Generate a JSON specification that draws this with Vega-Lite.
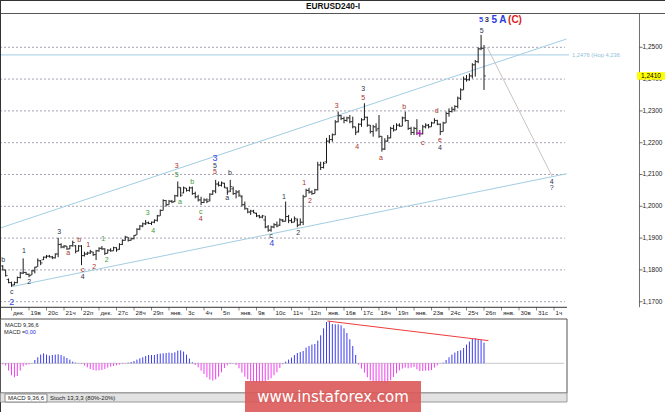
{
  "$schema": "https://vega.github.io/schema/vega-lite/v6.json",
  "width": 665,
  "height": 412,
  "autosize": {"type": "none"},
  "padding": 0,
  "background": "white",
  "config": {"view": {"stroke": null}, "text": {"font": "Liberation Sans"}},
  "datasets": {
    "bars": [
      {"t":-3,"o":1.1812,"h":1.1815,"l":1.1798,"c":1.1800},
      {"t":-2,"o":1.1800,"h":1.1800,"l":1.1779,"c":1.1782},
      {"t":-1,"o":1.1770,"h":1.1773,"l":1.1758,"c":1.1760},
      {"t":0,"o":1.1760,"h":1.1763,"l":1.1747,"c":1.1752},
      {"t":1,"o":1.1753,"h":1.1763,"l":1.1752,"c":1.1760},
      {"t":2,"o":1.1760,"h":1.1779,"l":1.1758,"c":1.1776},
      {"t":3,"o":1.1776,"h":1.1794,"l":1.1773,"c":1.1790},
      {"t":4,"o":1.1790,"h":1.1836,"l":1.1787,"c":1.1792},
      {"t":5,"o":1.1792,"h":1.1794,"l":1.1784,"c":1.1786},
      {"t":6,"o":1.1786,"h":1.1789,"l":1.1777,"c":1.1782},
      {"t":7,"o":1.1784,"h":1.1800,"l":1.1784,"c":1.1797},
      {"t":8,"o":1.1797,"h":1.1810,"l":1.1789,"c":1.1808},
      {"t":9,"o":1.1810,"h":1.1836,"l":1.1810,"c":1.1830},
      {"t":10,"o":1.1828,"h":1.1831,"l":1.1815,"c":1.1822},
      {"t":11,"o":1.1832,"h":1.1842,"l":1.1831,"c":1.1840},
      {"t":12,"o":1.1840,"h":1.1847,"l":1.1836,"c":1.1843},
      {"t":13,"o":1.1843,"h":1.1847,"l":1.1839,"c":1.1841},
      {"t":14,"o":1.1841,"h":1.1844,"l":1.1834,"c":1.1838},
      {"t":15,"o":1.1838,"h":1.1852,"l":1.1836,"c":1.1850},
      {"t":16,"o":1.1850,"h":1.1901,"l":1.1840,"c":1.1880},
      {"t":17,"o":1.1880,"h":1.1884,"l":1.1868,"c":1.1872},
      {"t":18,"o":1.1872,"h":1.1878,"l":1.1868,"c":1.1875},
      {"t":19,"o":1.1875,"h":1.1875,"l":1.1863,"c":1.1866},
      {"t":20,"o":1.1866,"h":1.1878,"l":1.1865,"c":1.1876},
      {"t":21,"o":1.1876,"h":1.1892,"l":1.1873,"c":1.1886},
      {"t":22,"o":1.1876,"h":1.1878,"l":1.1852,"c":1.1858},
      {"t":23,"o":1.1860,"h":1.1878,"l":1.1858,"c":1.1875},
      {"t":24,"o":1.1875,"h":1.1878,"l":1.1815,"c":1.1845},
      {"t":25,"o":1.1845,"h":1.1857,"l":1.1842,"c":1.1850},
      {"t":26,"o":1.1850,"h":1.1857,"l":1.1847,"c":1.1853},
      {"t":27,"o":1.1853,"h":1.1863,"l":1.1850,"c":1.1858},
      {"t":28,"o":1.1856,"h":1.1857,"l":1.1844,"c":1.1848},
      {"t":29,"o":1.1848,"h":1.1863,"l":1.1831,"c":1.1860},
      {"t":30,"o":1.1860,"h":1.1871,"l":1.1857,"c":1.1868},
      {"t":31,"o":1.1868,"h":1.1875,"l":1.1863,"c":1.1866},
      {"t":32,"o":1.1866,"h":1.1868,"l":1.1847,"c":1.1852},
      {"t":33,"o":1.1852,"h":1.1865,"l":1.1852,"c":1.1862},
      {"t":34,"o":1.1862,"h":1.1868,"l":1.1857,"c":1.1860},
      {"t":35,"o":1.1860,"h":1.1873,"l":1.1860,"c":1.1870},
      {"t":36,"o":1.1870,"h":1.1871,"l":1.1857,"c":1.1863},
      {"t":37,"o":1.1865,"h":1.1884,"l":1.1863,"c":1.1880},
      {"t":38,"o":1.1880,"h":1.1896,"l":1.1878,"c":1.1893},
      {"t":39,"o":1.1893,"h":1.1907,"l":1.1892,"c":1.1903},
      {"t":40,"o":1.1903,"h":1.1903,"l":1.1889,"c":1.1893},
      {"t":41,"o":1.1893,"h":1.1902,"l":1.1892,"c":1.1898},
      {"t":42,"o":1.1898,"h":1.1910,"l":1.1896,"c":1.1908},
      {"t":43,"o":1.1910,"h":1.1931,"l":1.1910,"c":1.1928},
      {"t":44,"o":1.1928,"h":1.1941,"l":1.1925,"c":1.1938},
      {"t":45,"o":1.1938,"h":1.1949,"l":1.1934,"c":1.1945},
      {"t":46,"o":1.1945,"h":1.1957,"l":1.1941,"c":1.1948},
      {"t":47,"o":1.1948,"h":1.1952,"l":1.1944,"c":1.1946},
      {"t":48,"o":1.1946,"h":1.1952,"l":1.1941,"c":1.1950},
      {"t":49,"o":1.1950,"h":1.1959,"l":1.1947,"c":1.1956},
      {"t":50,"o":1.1956,"h":1.1973,"l":1.1952,"c":1.1970},
      {"t":51,"o":1.1970,"h":1.1990,"l":1.1970,"c":1.1987},
      {"t":52,"o":1.1987,"h":1.2022,"l":1.1987,"c":1.2018},
      {"t":53,"o":1.2018,"h":1.2020,"l":1.1999,"c":1.2005},
      {"t":54,"o":1.2005,"h":1.2020,"l":1.2005,"c":1.2016},
      {"t":55,"o":1.2016,"h":1.2020,"l":1.2010,"c":1.2013},
      {"t":56,"o":1.2015,"h":1.2036,"l":1.2013,"c":1.2033},
      {"t":57,"o":1.2033,"h":1.2078,"l":1.2030,"c":1.2060},
      {"t":58,"o":1.2058,"h":1.2060,"l":1.2030,"c":1.2035},
      {"t":59,"o":1.2042,"h":1.2062,"l":1.2041,"c":1.2058},
      {"t":60,"o":1.2057,"h":1.2057,"l":1.2046,"c":1.2050},
      {"t":61,"o":1.2050,"h":1.2062,"l":1.2046,"c":1.2058},
      {"t":62,"o":1.2058,"h":1.2062,"l":1.2036,"c":1.2040},
      {"t":63,"o":1.2040,"h":1.2046,"l":1.2025,"c":1.2030},
      {"t":64,"o":1.2030,"h":1.2036,"l":1.2015,"c":1.2020},
      {"t":65,"o":1.2020,"h":1.2030,"l":1.2004,"c":1.2012},
      {"t":66,"o":1.2012,"h":1.2025,"l":1.2010,"c":1.2020},
      {"t":67,"o":1.2020,"h":1.2025,"l":1.2010,"c":1.2015},
      {"t":68,"o":1.2020,"h":1.2041,"l":1.2015,"c":1.2038},
      {"t":69,"o":1.2038,"h":1.2051,"l":1.2036,"c":1.2048},
      {"t":70,"o":1.2048,"h":1.2083,"l":1.2041,"c":1.2070},
      {"t":71,"o":1.2070,"h":1.2078,"l":1.2062,"c":1.2066},
      {"t":72,"o":1.2066,"h":1.2078,"l":1.2062,"c":1.2074},
      {"t":73,"o":1.2072,"h":1.2074,"l":1.2057,"c":1.2060},
      {"t":74,"o":1.2057,"h":1.2060,"l":1.2036,"c":1.2045},
      {"t":75,"o":1.2048,"h":1.2083,"l":1.2045,"c":1.2062},
      {"t":76,"o":1.2055,"h":1.2062,"l":1.2036,"c":1.2040},
      {"t":77,"o":1.2040,"h":1.2051,"l":1.2025,"c":1.2045},
      {"t":78,"o":1.2045,"h":1.2051,"l":1.2030,"c":1.2035},
      {"t":79,"o":1.2030,"h":1.2035,"l":1.1999,"c":1.2005},
      {"t":80,"o":1.2005,"h":1.2015,"l":1.1989,"c":1.1994},
      {"t":81,"o":1.1992,"h":1.1994,"l":1.1978,"c":1.1982},
      {"t":82,"o":1.1982,"h":1.1989,"l":1.1973,"c":1.1985},
      {"t":83,"o":1.1985,"h":1.1989,"l":1.1978,"c":1.1980},
      {"t":84,"o":1.1977,"h":1.1980,"l":1.1966,"c":1.1970},
      {"t":85,"o":1.1970,"h":1.1973,"l":1.1962,"c":1.1966},
      {"t":86,"o":1.1966,"h":1.1973,"l":1.1962,"c":1.1970},
      {"t":87,"o":1.1957,"h":1.1970,"l":1.1931,"c":1.1935},
      {"t":88,"o":1.1935,"h":1.1941,"l":1.1920,"c":1.1925},
      {"t":89,"o":1.1925,"h":1.1939,"l":1.1920,"c":1.1935},
      {"t":90,"o":1.1935,"h":1.1947,"l":1.1931,"c":1.1942},
      {"t":91,"o":1.1942,"h":1.1952,"l":1.1934,"c":1.1938},
      {"t":92,"o":1.1941,"h":1.1962,"l":1.1938,"c":1.1958},
      {"t":93,"o":1.1956,"h":1.1960,"l":1.1950,"c":1.1953},
      {"t":94,"o":1.1953,"h":1.2015,"l":1.1952,"c":1.1968},
      {"t":95,"o":1.1968,"h":1.1973,"l":1.1947,"c":1.1955},
      {"t":96,"o":1.1955,"h":1.1962,"l":1.1947,"c":1.1950},
      {"t":97,"o":1.1950,"h":1.1968,"l":1.1950,"c":1.1962},
      {"t":98,"o":1.1957,"h":1.1962,"l":1.1934,"c":1.1940},
      {"t":99,"o":1.1942,"h":1.1962,"l":1.1940,"c":1.1950},
      {"t":100,"o":1.1950,"h":1.2036,"l":1.1941,"c":1.2030},
      {"t":101,"o":1.2030,"h":1.2055,"l":1.2030,"c":1.2050},
      {"t":102,"o":1.2050,"h":1.2058,"l":1.2040,"c":1.2045},
      {"t":103,"o":1.2045,"h":1.2050,"l":1.2036,"c":1.2040},
      {"t":104,"o":1.2040,"h":1.2055,"l":1.2040,"c":1.2052},
      {"t":105,"o":1.2052,"h":1.2140,"l":1.2050,"c":1.2130},
      {"t":106,"o":1.2130,"h":1.2140,"l":1.2114,"c":1.2122},
      {"t":107,"o":1.2122,"h":1.2140,"l":1.2119,"c":1.2135},
      {"t":108,"o":1.2140,"h":1.2215,"l":1.2135,"c":1.2205},
      {"t":109,"o":1.2205,"h":1.2224,"l":1.2198,"c":1.2210},
      {"t":110,"o":1.2210,"h":1.2229,"l":1.2203,"c":1.2225},
      {"t":111,"o":1.2225,"h":1.2271,"l":1.2224,"c":1.2265},
      {"t":112,"o":1.2266,"h":1.2298,"l":1.2264,"c":1.2285},
      {"t":113,"o":1.2285,"h":1.2287,"l":1.2271,"c":1.2276},
      {"t":114,"o":1.2276,"h":1.2282,"l":1.2261,"c":1.2270},
      {"t":115,"o":1.2270,"h":1.2282,"l":1.2266,"c":1.2278},
      {"t":116,"o":1.2278,"h":1.2287,"l":1.2261,"c":1.2266},
      {"t":117,"o":1.2266,"h":1.2282,"l":1.2245,"c":1.2250},
      {"t":118,"o":1.2250,"h":1.2250,"l":1.2224,"c":1.2232},
      {"t":119,"o":1.2236,"h":1.2261,"l":1.2232,"c":1.2258},
      {"t":120,"o":1.2258,"h":1.2277,"l":1.2250,"c":1.2272},
      {"t":121,"o":1.2272,"h":1.2324,"l":1.2271,"c":1.2280},
      {"t":122,"o":1.2280,"h":1.2282,"l":1.2250,"c":1.2255},
      {"t":123,"o":1.2255,"h":1.2256,"l":1.2229,"c":1.2235},
      {"t":124,"o":1.2235,"h":1.2256,"l":1.2219,"c":1.2250},
      {"t":125,"o":1.2250,"h":1.2261,"l":1.2235,"c":1.2240},
      {"t":126,"o":1.2245,"h":1.2287,"l":1.2215,"c":1.2220},
      {"t":127,"o":1.2220,"h":1.2220,"l":1.2172,"c":1.2180},
      {"t":128,"o":1.2180,"h":1.2214,"l":1.2177,"c":1.2205},
      {"t":129,"o":1.2205,"h":1.2224,"l":1.2203,"c":1.2215},
      {"t":130,"o":1.2215,"h":1.2250,"l":1.2214,"c":1.2245},
      {"t":131,"o":1.2245,"h":1.2256,"l":1.2235,"c":1.2240},
      {"t":132,"o":1.2240,"h":1.2261,"l":1.2240,"c":1.2255},
      {"t":133,"o":1.2255,"h":1.2261,"l":1.2250,"c":1.2252},
      {"t":134,"o":1.2252,"h":1.2282,"l":1.2252,"c":1.2278},
      {"t":135,"o":1.2278,"h":1.2298,"l":1.2266,"c":1.2270},
      {"t":136,"o":1.2270,"h":1.2271,"l":1.2240,"c":1.2245},
      {"t":137,"o":1.2245,"h":1.2250,"l":1.2224,"c":1.2232},
      {"t":138,"o":1.2232,"h":1.2250,"l":1.2224,"c":1.2245},
      {"t":139,"o":1.2245,"h":1.2274,"l":1.2224,"c":1.2230},
      {"t":140,"o":1.2230,"h":1.2240,"l":1.2219,"c":1.2228},
      {"t":141,"o":1.2228,"h":1.2256,"l":1.2226,"c":1.2250},
      {"t":142,"o":1.2250,"h":1.2261,"l":1.2245,"c":1.2255},
      {"t":143,"o":1.2255,"h":1.2259,"l":1.2245,"c":1.2250},
      {"t":144,"o":1.2250,"h":1.2266,"l":1.2250,"c":1.2262},
      {"t":145,"o":1.2262,"h":1.2277,"l":1.2261,"c":1.2270},
      {"t":146,"o":1.2270,"h":1.2272,"l":1.2255,"c":1.2258},
      {"t":147,"o":1.2258,"h":1.2261,"l":1.2224,"c":1.2235},
      {"t":148,"o":1.2235,"h":1.2266,"l":1.2235,"c":1.2262},
      {"t":149,"o":1.2262,"h":1.2298,"l":1.2262,"c":1.2292},
      {"t":150,"o":1.2292,"h":1.2308,"l":1.2282,"c":1.2298},
      {"t":151,"o":1.2298,"h":1.2313,"l":1.2295,"c":1.2305},
      {"t":152,"o":1.2305,"h":1.2318,"l":1.2298,"c":1.2314},
      {"t":153,"o":1.2314,"h":1.2345,"l":1.2308,"c":1.2340},
      {"t":154,"o":1.2340,"h":1.2371,"l":1.2334,"c":1.2366},
      {"t":155,"o":1.2366,"h":1.2408,"l":1.2366,"c":1.2400},
      {"t":156,"o":1.2400,"h":1.2413,"l":1.2392,"c":1.2398},
      {"t":157,"o":1.2398,"h":1.2418,"l":1.2395,"c":1.2410},
      {"t":158,"o":1.2410,"h":1.2450,"l":1.2402,"c":1.2445},
      {"t":159,"o":1.2445,"h":1.2460,"l":1.2408,"c":1.2455},
      {"t":160,"o":1.2455,"h":1.2500,"l":1.2450,"c":1.2495},
      {"t":161,"o":1.2495,"h":1.2539,"l":1.2491,"c":1.2497},
      {"t":162,"o":1.2497,"h":1.2507,"l":1.2366,"c":1.2410}
    ],
    "macd": [
      {"t":-3,"v":-0.0001},{"t":-2,"v":-0.00023},{"t":-1,"v":-0.00073},{"t":0,"v":-0.0012},
      {"t":1,"v":-0.0014},{"t":2,"v":-0.00127},{"t":3,"v":-0.00073},{"t":4,"v":-0.0003},
      {"t":5,"v":-0.00017},{"t":6,"v":-0.0001},{"t":7,"v":0.00003},{"t":8,"v":0.00033},
      {"t":9,"v":0.0006},{"t":10,"v":0.00087},{"t":11,"v":0.001},{"t":12,"v":0.00087},
      {"t":13,"v":0.00077},{"t":14,"v":0.00083},{"t":15,"v":0.00087},{"t":16,"v":0.0009},
      {"t":17,"v":0.00083},{"t":18,"v":0.0007},{"t":19,"v":0.00053},{"t":20,"v":0.00037},
      {"t":21,"v":0.00017},{"t":22,"v":0.00007},{"t":23,"v":0.00002},{"t":24,"v":-0.00007},
      {"t":25,"v":-0.00023},{"t":26,"v":-0.0004},{"t":27,"v":-0.00057},{"t":28,"v":-0.00067},
      {"t":29,"v":-0.00073},{"t":30,"v":-0.0007},{"t":31,"v":-0.00067},{"t":32,"v":-0.00057},
      {"t":33,"v":-0.00043},{"t":34,"v":-0.00033},{"t":35,"v":-0.00027},{"t":36,"v":-0.0002},
      {"t":37,"v":-0.00013},{"t":38,"v":-0.00007},{"t":39,"v":-0.00003},{"t":40,"v":0.00007},
      {"t":41,"v":0.00013},{"t":42,"v":0.00023},{"t":43,"v":0.00037},{"t":44,"v":0.0005},
      {"t":45,"v":0.0006},{"t":46,"v":0.00073},{"t":47,"v":0.00083},{"t":48,"v":0.00083},
      {"t":49,"v":0.00083},{"t":50,"v":0.00093},{"t":51,"v":0.00097},{"t":52,"v":0.001},
      {"t":53,"v":0.00103},{"t":54,"v":0.00107},{"t":55,"v":0.00103},{"t":56,"v":0.0011},
      {"t":57,"v":0.00127},{"t":58,"v":0.0013},{"t":59,"v":0.00117},{"t":60,"v":0.00087},
      {"t":61,"v":0.00047},{"t":62,"v":0.0001},{"t":63,"v":-0.00017},{"t":64,"v":-0.0004},
      {"t":65,"v":-0.00073},{"t":66,"v":-0.00107},{"t":67,"v":-0.0014},{"t":68,"v":-0.00163},
      {"t":69,"v":-0.00173},{"t":70,"v":-0.0016},{"t":71,"v":-0.00133},{"t":72,"v":-0.0009},
      {"t":73,"v":-0.00047},{"t":74,"v":-0.0002},{"t":75,"v":-0.00007},{"t":76,"v":-0.00003},
      {"t":77,"v":-0.00017},{"t":78,"v":-0.0005},{"t":79,"v":-0.00093},{"t":80,"v":-0.00133},
      {"t":81,"v":-0.0016},{"t":82,"v":-0.00177},{"t":83,"v":-0.0019},{"t":84,"v":-0.00193},
      {"t":85,"v":-0.00193},{"t":86,"v":-0.00187},{"t":87,"v":-0.0018},{"t":88,"v":-0.00167},
      {"t":89,"v":-0.0015},{"t":90,"v":-0.0012},{"t":91,"v":-0.0009},{"t":92,"v":-0.00047},
      {"t":93,"v":-0.0001},{"t":94,"v":0.00017},{"t":95,"v":0.00037},{"t":96,"v":0.00057},
      {"t":97,"v":0.00083},{"t":98,"v":0.00103},{"t":99,"v":0.00113},{"t":100,"v":0.00123},
      {"t":101,"v":0.00157},{"t":102,"v":0.00173},{"t":103,"v":0.00187},{"t":104,"v":0.00193},
      {"t":105,"v":0.00227},{"t":106,"v":0.0028},{"t":107,"v":0.0035},{"t":108,"v":0.00413},
      {"t":109,"v":0.0042},{"t":110,"v":0.00393},{"t":111,"v":0.0039},{"t":112,"v":0.0039},
      {"t":113,"v":0.0038},{"t":114,"v":0.0035},{"t":115,"v":0.00303},{"t":116,"v":0.0024},
      {"t":117,"v":0.00173},{"t":118,"v":0.00083},{"t":119,"v":-0.00013},{"t":120,"v":-0.00053},
      {"t":121,"v":-0.00093},{"t":122,"v":-0.0014},{"t":123,"v":-0.0017},{"t":124,"v":-0.00187},
      {"t":125,"v":-0.00193},{"t":126,"v":-0.00193},{"t":127,"v":-0.00193},{"t":128,"v":-0.00193},
      {"t":129,"v":-0.0019},{"t":130,"v":-0.0017},{"t":131,"v":-0.00137},{"t":132,"v":-0.001},
      {"t":133,"v":-0.0007},{"t":134,"v":-0.00053},{"t":135,"v":-0.00043},{"t":136,"v":-0.0005},
      {"t":137,"v":-0.00043},{"t":138,"v":-0.00037},{"t":139,"v":-0.0006},{"t":140,"v":-0.00077},
      {"t":141,"v":-0.00077},{"t":142,"v":-0.00073},{"t":143,"v":-0.00073},{"t":144,"v":-0.00067},
      {"t":145,"v":-0.00043},{"t":146,"v":-0.0002},{"t":147,"v":-0.00003},{"t":148,"v":0.00007},
      {"t":149,"v":0.00033},{"t":150,"v":0.0006},{"t":151,"v":0.00087},{"t":152,"v":0.00107},
      {"t":153,"v":0.00123},{"t":154,"v":0.0013},{"t":155,"v":0.00153},{"t":156,"v":0.00187},
      {"t":157,"v":0.00217},{"t":158,"v":0.00243},{"t":159,"v":0.0025},{"t":160,"v":0.00243},
      {"t":161,"v":0.00233},{"t":162,"v":0.00207}
    ],
    "waves": [
      {"label":"b","t":-2.81,"p":1.18311,"level":"minor"},
      {"label":"c","t":0.07,"p":1.17296,"level":"minor"},
      {"label":"2","t":0.07,"p":1.1700,"level":"intermediate"},
      {"label":"1","t":4.29,"p":1.18594,"level":"minor"},
      {"label":"2","t":6.10,"p":1.17629,"level":"minor"},
      {"label":"3","t":16.39,"p":1.19201,"level":"minor"},
      {"label":"a","t":19.47,"p":1.18541,"level":"minute"},
      {"label":"b","t":23.25,"p":1.18940,"level":"minute"},
      {"label":"c","t":24.41,"p":1.17997,"level":"minute"},
      {"label":"4","t":24.41,"p":1.17786,"level":"minor"},
      {"label":"1","t":26.33,"p":1.18783,"level":"minute"},
      {"label":"2","t":28.39,"p":1.18082,"level":"minute"},
      {"label":"1","t":31.47,"p":1.18962,"level":"minuette"},
      {"label":"2","t":32.64,"p":1.18311,"level":"minuette"},
      {"label":"3","t":46.70,"p":1.19780,"level":"minuette"},
      {"label":"4","t":48.62,"p":1.19233,"level":"minuette"},
      {"label":"3","t":56.64,"p":1.21267,"level":"minute"},
      {"label":"5","t":56.64,"p":1.20984,"level":"minuette"},
      {"label":"a","t":57.77,"p":1.20145,"level":"minuette"},
      {"label":"b","t":61.99,"p":1.20774,"level":"minuette"},
      {"label":"c","t":64.87,"p":1.19830,"level":"minuette"},
      {"label":"4","t":64.87,"p":1.19591,"level":"minute"},
      {"label":"3","t":69.77,"p":1.21509,"level":"intermediate"},
      {"label":"5","t":69.77,"p":1.21267,"level":"minor"},
      {"label":"5","t":69.77,"p":1.21069,"level":"minute"},
      {"label":"b","t":74.91,"p":1.21038,"level":"minor"},
      {"label":"a","t":73.99,"p":1.20251,"level":"minor"},
      {"label":"c","t":88.97,"p":1.19066,"level":"minor"},
      {"label":"4","t":89.21,"p":1.18836,"level":"intermediate"},
      {"label":"1","t":93.43,"p":1.20302,"level":"minor"},
      {"label":"2","t":98.33,"p":1.19170,"level":"minor"},
      {"label":"1","t":100.39,"p":1.20733,"level":"minute"},
      {"label":"2","t":102.34,"p":1.20167,"level":"minute"},
      {"label":"3","t":111.50,"p":1.23163,"level":"minute"},
      {"label":"4","t":118.56,"p":1.21855,"level":"minute"},
      {"label":"3","t":120.62,"p":1.23689,"level":"minor"},
      {"label":"5","t":120.62,"p":1.23396,"level":"minute"},
      {"label":"a","t":126.69,"p":1.21509,"level":"minute"},
      {"label":"b","t":134.67,"p":1.23113,"level":"minute"},
      {"label":"c","t":140.98,"p":1.21981,"level":"minute"},
      {"label":"d","t":145.78,"p":1.23006,"level":"minute"},
      {"label":"e","t":146.91,"p":1.22085,"level":"minute"},
      {"label":"4","t":146.91,"p":1.21824,"level":"minor"},
      {"label":"5","t":161.21,"p":1.25522,"level":"minor"},
      {"label":"4","t":185.21,"p":1.20774,"level":"minor"},
      {"label":"?","t":185.21,"p":1.20575,"level":"minor"}
    ],
    "top": [
      {"label":"5","t":160.97,"p":1.25849,"level":"intermediate"},
      {"label":"3","t":162.93,"p":1.25849,"level":"minor"},
      {"label":"5 A","t":167.14,"p":1.25849,"level":"primary"},
      {"label":"(C)","t":172.63,"p":1.25849,"level":"supercycle"}
    ],
    "levels": [
      {"level":1.17,"label":"1,1700"},{"level":1.18,"label":"1,1800"},{"level":1.19,"label":"1,1900"},
      {"level":1.2,"label":"1,2000"},{"level":1.21,"label":"1,2100"},{"level":1.22,"label":"1,2200"},
      {"level":1.23,"label":"1,2300"},{"level":1.24,"label":"1,2400"},{"level":1.25,"label":"1,2500"}
    ],
    "days": [
      {"t":0,"label":"дек."},{"t":6,"label":"19в"},{"t":12,"label":"20с"},{"t":18,"label":"21ч"},
      {"t":24,"label":"22п"},{"t":30,"label":"дек."},{"t":36,"label":"27с"},{"t":42,"label":"28ч"},
      {"t":48,"label":"29п"},{"t":54,"label":"янв."},{"t":60,"label":"3с"},{"t":66,"label":"4ч"},
      {"t":72,"label":"5п"},{"t":78,"label":"янв."},{"t":84,"label":"9в"},{"t":90,"label":"10с"},
      {"t":96,"label":"11ч"},{"t":102,"label":"12п"},{"t":108,"label":"янв."},{"t":114,"label":"16в"},
      {"t":120,"label":"17с"},{"t":126,"label":"18ч"},{"t":132,"label":"19п"},{"t":138,"label":"янв."},
      {"t":144,"label":"23в"},{"t":150,"label":"24с"},{"t":156,"label":"25ч"},{"t":162,"label":"26п"},
      {"t":168,"label":"янв."},{"t":174,"label":"30в"},{"t":180,"label":"31с"},{"t":186,"label":"1ч"}
    ],
    "lines": [
      {"name":"upper channel","t1":-3.943,"p1":1.19314,"t2":190.3,"p2":1.25261},
      {"name":"lower channel","t1":0.07,"p1":1.17472,"t2":190.35,"p2":1.21025},
      {"name":"target 4.236","t1":-3.943,"p1":1.2476,"t2":191.14,"p2":1.2476},
      {"name":"projection","t1":163.03,"p1":1.2501,"t2":185.31,"p2":1.20952}
    ],
    "last": [{"price": 1.241, "label": "1,2410"}]
  },
  "layer": [
    {
      "layer": [
        {
          "data": {"name": "levels"},
          "mark": {"type": "rule", "color": "#aaa2b2", "strokeDash": [2, 2], "strokeWidth": 1},
          "encoding": {
            "x": {"datum": -3.943, "type": "quantitative", "scale": {"domain": [-3.943, 224.057], "nice": false, "zero": false}, "axis": null},
            "x2": {"datum": 189.77},
            "y": {"field": "level", "type": "quantitative", "scale": {"domain": [1.135313, 1.264875], "nice": false, "zero": false}, "axis": null}
          }
        },
        {
          "data": {"name": "levels"},
          "mark": {"type": "tick", "orient": "horizontal", "size": 3, "thickness": 1, "color": "#333"},
          "encoding": {
            "x": {"datum": 215.83, "type": "quantitative", "scale": {"domain": [-3.943, 224.057], "nice": false, "zero": false}, "axis": null},
            "y": {"field": "level", "type": "quantitative", "scale": {"domain": [1.135313, 1.264875], "nice": false, "zero": false}, "axis": null}
          }
        },
        {
          "data": {"name": "levels"},
          "mark": {"type": "text", "font": "Liberation Sans", "fontSize": 6.5, "color": "#222", "align": "left", "baseline": "middle"},
          "encoding": {
            "x": {"datum": 216.34, "type": "quantitative", "scale": {"domain": [-3.943, 224.057], "nice": false, "zero": false}, "axis": null},
            "y": {"field": "level", "type": "quantitative", "scale": {"domain": [1.135313, 1.264875], "nice": false, "zero": false}, "axis": null},
            "text": {"field": "label"}
          }
        },
        {
          "data": {"name": "days"},
          "mark": {"type": "tick", "orient": "vertical", "size": 3.5, "thickness": 1, "color": "#555"},
          "encoding": {
            "x": {"field": "t", "type": "quantitative", "scale": {"domain": [-3.943, 224.057], "nice": false, "zero": false}, "axis": null},
            "y": {"datum": 1.167766, "type": "quantitative", "scale": {"domain": [1.135313, 1.264875], "nice": false, "zero": false}, "axis": null}
          }
        },
        {
          "data": {"name": "days"},
          "mark": {"type": "text", "font": "Liberation Sans", "fontSize": 6.2, "color": "#222", "align": "left", "baseline": "middle", "dx": 1.5},
          "encoding": {
            "x": {"field": "t", "type": "quantitative", "scale": {"domain": [-3.943, 224.057], "nice": false, "zero": false}, "axis": null},
            "y": {"datum": 1.16629, "type": "quantitative", "scale": {"domain": [1.135313, 1.264875], "nice": false, "zero": false}, "axis": null},
            "text": {"field": "label"}
          }
        },
        {
          "data": {"name": "lines"},
          "transform": [{"filter": "datum.name != 'projection'"}],
          "mark": {"type": "rule", "color": "#a3cde2", "strokeWidth": 1},
          "encoding": {
            "x": {"field": "t1", "type": "quantitative", "scale": {"domain": [-3.943, 224.057], "nice": false, "zero": false}, "axis": null},
            "x2": {"field": "t2"},
            "y": {"field": "p1", "type": "quantitative", "scale": {"domain": [1.135313, 1.264875], "nice": false, "zero": false}, "axis": null},
            "y2": {"field": "p2"}
          }
        },
        {
          "data": {"name": "lines"},
          "transform": [{"filter": "datum.name == 'projection'"}],
          "mark": {"type": "rule", "color": "#cbc2c2", "strokeWidth": 1},
          "encoding": {
            "x": {"field": "t1", "type": "quantitative", "scale": {"domain": [-3.943, 224.057], "nice": false, "zero": false}, "axis": null},
            "x2": {"field": "t2"},
            "y": {"field": "p1", "type": "quantitative", "scale": {"domain": [1.135313, 1.264875], "nice": false, "zero": false}, "axis": null},
            "y2": {"field": "p2"}
          }
        },
        {
          "data": {"name": "bars"},
          "mark": {"type": "rule", "color": "#1a1a1a", "strokeWidth": 1},
          "encoding": {
            "x": {"field": "t", "type": "quantitative", "scale": {"domain": [-3.943, 224.057], "nice": false, "zero": false}, "axis": null},
            "y": {"field": "l", "type": "quantitative", "scale": {"domain": [1.135313, 1.264875], "nice": false, "zero": false}, "axis": null},
            "y2": {"field": "h"}
          }
        },
        {
          "data": {"name": "bars"},
          "mark": {"type": "tick", "orient": "horizontal", "size": 2, "thickness": 1, "xOffset": -1, "color": "#1a1a1a"},
          "encoding": {
            "x": {"field": "t", "type": "quantitative", "scale": {"domain": [-3.943, 224.057], "nice": false, "zero": false}, "axis": null},
            "y": {"field": "o", "type": "quantitative", "scale": {"domain": [1.135313, 1.264875], "nice": false, "zero": false}, "axis": null}
          }
        },
        {
          "data": {"name": "bars"},
          "mark": {"type": "tick", "orient": "horizontal", "size": 2, "thickness": 1, "xOffset": 1, "color": "#1a1a1a"},
          "encoding": {
            "x": {"field": "t", "type": "quantitative", "scale": {"domain": [-3.943, 224.057], "nice": false, "zero": false}, "axis": null},
            "y": {"field": "c", "type": "quantitative", "scale": {"domain": [1.135313, 1.264875], "nice": false, "zero": false}, "axis": null}
          }
        },
        {
          "data": {"name": "waves"},
          "transform": [{"filter": "datum.level != 'intermediate'"}],
          "mark": {"type": "text", "font": "Liberation Sans", "fontSize": 7, "align": "center", "baseline": "middle"},
          "encoding": {
            "x": {"field": "t", "type": "quantitative", "scale": {"domain": [-3.943, 224.057], "nice": false, "zero": false}, "axis": null},
            "y": {"field": "p", "type": "quantitative", "scale": {"domain": [1.135313, 1.264875], "nice": false, "zero": false}, "axis": null},
            "text": {"field": "label"},
            "color": {"field": "level", "type": "nominal", "legend": null,
              "scale": {"domain": ["supercycle", "primary", "intermediate", "minor", "minute", "minuette"], "range": ["#d81c1c", "#2a3be0", "#3545e6", "#2b3350", "#a8322d", "#3a9a3a"]}}
          }
        },
        {
          "data": {"name": "waves"},
          "transform": [{"filter": "datum.level == 'intermediate'"}],
          "mark": {"type": "text", "font": "Liberation Sans", "fontSize": 9, "align": "center", "baseline": "middle"},
          "encoding": {
            "x": {"field": "t", "type": "quantitative", "scale": {"domain": [-3.943, 224.057], "nice": false, "zero": false}, "axis": null},
            "y": {"field": "p", "type": "quantitative", "scale": {"domain": [1.135313, 1.264875], "nice": false, "zero": false}, "axis": null},
            "text": {"field": "label"},
            "color": {"field": "level", "type": "nominal", "legend": null,
              "scale": {"domain": ["supercycle", "primary", "intermediate", "minor", "minute", "minuette"], "range": ["#d81c1c", "#2a3be0", "#3545e6", "#2b3350", "#a8322d", "#3a9a3a"]}}
          }
        },
        {
          "data": {"name": "top"},
          "transform": [{"filter": "datum.level == 'intermediate' || datum.level == 'minor'"}],
          "mark": {"type": "text", "font": "Liberation Sans", "fontSize": 7.5, "fontWeight": "bold", "align": "center", "baseline": "middle"},
          "encoding": {
            "x": {"field": "t", "type": "quantitative", "scale": {"domain": [-3.943, 224.057], "nice": false, "zero": false}, "axis": null},
            "y": {"field": "p", "type": "quantitative", "scale": {"domain": [1.135313, 1.264875], "nice": false, "zero": false}, "axis": null},
            "text": {"field": "label"},
            "color": {"field": "level", "type": "nominal", "legend": null,
              "scale": {"domain": ["supercycle", "primary", "intermediate", "minor", "minute", "minuette"], "range": ["#d81c1c", "#2a3be0", "#3545e6", "#2b3350", "#a8322d", "#3a9a3a"]}}
          }
        },
        {
          "data": {"name": "top"},
          "transform": [{"filter": "datum.level == 'primary' || datum.level == 'supercycle'"}],
          "mark": {"type": "text", "font": "Liberation Sans", "fontSize": 10, "fontWeight": "bold", "align": "center", "baseline": "middle"},
          "encoding": {
            "x": {"field": "t", "type": "quantitative", "scale": {"domain": [-3.943, 224.057], "nice": false, "zero": false}, "axis": null},
            "y": {"field": "p", "type": "quantitative", "scale": {"domain": [1.135313, 1.264875], "nice": false, "zero": false}, "axis": null},
            "text": {"field": "label"},
            "color": {"field": "level", "type": "nominal", "legend": null,
              "scale": {"domain": ["supercycle", "primary", "intermediate", "minor", "minute", "minuette"], "range": ["#d81c1c", "#2a3be0", "#3545e6", "#2b3350", "#a8322d", "#3a9a3a"]}}
          }
        },
        {
          "data": {"values": [{"t": 139.82, "p": 1.22296}]},
          "mark": {"type": "point", "shape": "M-1,0L1,0M0,-1L0,1", "size": 40, "filled": false, "stroke": "#ff00ff", "strokeWidth": 1},
          "encoding": {
            "x": {"field": "t", "type": "quantitative", "scale": {"domain": [-3.943, 224.057], "nice": false, "zero": false}, "axis": null},
            "y": {"field": "p", "type": "quantitative", "scale": {"domain": [1.135313, 1.264875], "nice": false, "zero": false}, "axis": null}
          }
        },
        {
          "data": {"values": [{}]},
          "mark": {"type": "text", "text": "1,2476 (Нор 4,236", "font": "Liberation Sans", "fontSize": 5.8, "color": "#90c2da", "align": "left", "baseline": "middle"},
          "encoding": {
            "x": {"datum": 192.17, "type": "quantitative", "scale": {"domain": [-3.943, 224.057], "nice": false, "zero": false}, "axis": null},
            "y": {"datum": 1.2476, "type": "quantitative", "scale": {"domain": [1.135313, 1.264875], "nice": false, "zero": false}, "axis": null}
          }
        },
        {
          "data": {"values": [{}]},
          "mark": {"type": "text", "text": "EURUSD240-I", "font": "Liberation Sans", "fontSize": 8.3, "fontWeight": "bold", "color": "#111", "align": "center", "baseline": "middle"},
          "encoding": {
            "x": {"datum": 110.23, "type": "quantitative", "scale": {"domain": [-3.943, 224.057], "nice": false, "zero": false}, "axis": null},
            "y": {"datum": 1.26283, "type": "quantitative", "scale": {"domain": [1.135313, 1.264875], "nice": false, "zero": false}, "axis": null}
          }
        },
        {
          "data": {"values": [{}]},
          "mark": {"type": "rule", "color": "#333", "strokeWidth": 1},
          "encoding": {
            "x": {"datum": -3.943, "type": "quantitative", "scale": {"domain": [-3.943, 224.057], "nice": false, "zero": false}, "axis": null},
            "x2": {"datum": 224.057},
            "y": {"datum": 1.264717, "type": "quantitative", "scale": {"domain": [1.135313, 1.264875], "nice": false, "zero": false}, "axis": null}
          }
        },
        {
          "data": {"values": [{}]},
          "mark": {"type": "rule", "color": "#555", "strokeWidth": 1},
          "encoding": {
            "x": {"datum": -3.943, "type": "quantitative", "scale": {"domain": [-3.943, 224.057], "nice": false, "zero": false}, "axis": null},
            "x2": {"datum": 224.057},
            "y": {"datum": 1.260629, "type": "quantitative", "scale": {"domain": [1.135313, 1.264875], "nice": false, "zero": false}, "axis": null}
          }
        },
        {
          "data": {"values": [{}]},
          "mark": {"type": "rule", "color": "#333", "strokeWidth": 1},
          "encoding": {
            "x": {"datum": -3.771, "type": "quantitative", "scale": {"domain": [-3.943, 224.057], "nice": false, "zero": false}, "axis": null}
          }
        },
        {
          "data": {"values": [{}]},
          "mark": {"type": "tick", "orient": "vertical", "size": 293.8, "thickness": 1, "color": "#333"},
          "encoding": {
            "x": {"datum": 215.31, "type": "quantitative", "scale": {"domain": [-3.943, 224.057], "nice": false, "zero": false}, "axis": null},
            "y": {"datum": 1.214435, "type": "quantitative", "scale": {"domain": [1.135313, 1.264875], "nice": false, "zero": false}, "axis": null}
          }
        },
        {
          "data": {"values": [{}]},
          "mark": {"type": "rule", "color": "#333", "strokeWidth": 1},
          "encoding": {
            "x": {"datum": -3.943, "type": "quantitative", "scale": {"domain": [-3.943, 224.057], "nice": false, "zero": false}, "axis": null},
            "x2": {"datum": 190.46},
            "y": {"datum": 1.16824, "type": "quantitative", "scale": {"domain": [1.135313, 1.264875], "nice": false, "zero": false}, "axis": null}
          }
        },
        {
          "data": {"name": "last"},
          "mark": {"type": "point", "shape": "M-1,-0.27L1,-0.27L1,0.27L-1,0.27Z", "size": 784, "filled": true, "color": "#ffff00", "opacity": 1, "strokeWidth": 0},
          "encoding": {
            "x": {"datum": 219.26, "type": "quantitative", "scale": {"domain": [-3.943, 224.057], "nice": false, "zero": false}, "axis": null},
            "y": {"field": "price", "type": "quantitative", "scale": {"domain": [1.135313, 1.264875], "nice": false, "zero": false}, "axis": null}
          }
        },
        {
          "data": {"name": "last"},
          "mark": {"type": "text", "font": "Liberation Sans", "fontSize": 6.5, "color": "#000", "align": "left", "baseline": "middle"},
          "encoding": {
            "x": {"datum": 215.83, "type": "quantitative", "scale": {"domain": [-3.943, 224.057], "nice": false, "zero": false}, "axis": null},
            "y": {"field": "price", "type": "quantitative", "scale": {"domain": [1.135313, 1.264875], "nice": false, "zero": false}, "axis": null},
            "text": {"field": "label"}
          }
        }
      ]
    },
    {
      "layer": [
        {
          "data": {"values": [{}]},
          "mark": {"type": "rect", "fill": "white", "stroke": "#555", "strokeWidth": 1},
          "encoding": {
            "x": {"datum": -3.771, "type": "quantitative", "scale": {"domain": [-3.943, 224.057], "nice": false, "zero": false}, "axis": null},
            "x2": {"datum": 190.46},
            "y": {"datum": 0.00443, "type": "quantitative", "scale": {"domain": [-0.00487, 0.03633], "nice": false, "zero": false}, "axis": null},
            "y2": {"datum": -0.00297}
          }
        },
        {
          "data": {"values": [{}]},
          "mark": {"type": "rule", "color": "#c8c8c8", "strokeWidth": 1},
          "encoding": {
            "x": {"datum": -3.5, "type": "quantitative", "scale": {"domain": [-3.943, 224.057], "nice": false, "zero": false}, "axis": null},
            "x2": {"datum": 189.5},
            "y": {"datum": 0, "type": "quantitative", "scale": {"domain": [-0.00487, 0.03633], "nice": false, "zero": false}, "axis": null}
          }
        },
        {
          "data": {"name": "macd"},
          "transform": [{"filter": "datum.v >= 0"}],
          "mark": {"type": "rule", "color": "#3c3cf0", "strokeWidth": 1},
          "encoding": {
            "x": {"field": "t", "type": "quantitative", "scale": {"domain": [-3.943, 224.057], "nice": false, "zero": false}, "axis": null},
            "y": {"field": "v", "type": "quantitative", "scale": {"domain": [-0.00487, 0.03633], "nice": false, "zero": false}, "axis": null},
            "y2": {"datum": 0}
          }
        },
        {
          "data": {"name": "macd"},
          "transform": [{"filter": "datum.v < 0"}],
          "mark": {"type": "rule", "color": "#f040f0", "strokeWidth": 1},
          "encoding": {
            "x": {"field": "t", "type": "quantitative", "scale": {"domain": [-3.943, 224.057], "nice": false, "zero": false}, "axis": null},
            "y": {"field": "v", "type": "quantitative", "scale": {"domain": [-0.00487, 0.03633], "nice": false, "zero": false}, "axis": null},
            "y2": {"datum": 0}
          }
        },
        {
          "data": {"values": [{}]},
          "mark": {"type": "rule", "color": "#f03c3c", "strokeWidth": 1},
          "encoding": {
            "x": {"datum": 108.3, "type": "quantitative", "scale": {"domain": [-3.943, 224.057], "nice": false, "zero": false}, "axis": null},
            "x2": {"datum": 163.5},
            "y": {"datum": 0.00423, "type": "quantitative", "scale": {"domain": [-0.00487, 0.03633], "nice": false, "zero": false}, "axis": null},
            "y2": {"datum": 0.00227}
          }
        },
        {
          "data": {"values": [{}]},
          "mark": {"type": "text", "text": "MACD 9,36,6", "font": "Liberation Sans", "fontSize": 5.6, "color": "#222", "align": "left", "baseline": "middle"},
          "encoding": {
            "x": {"datum": -2.229, "type": "quantitative", "scale": {"domain": [-3.943, 224.057], "nice": false, "zero": false}, "axis": null},
            "y": {"datum": 0.00388, "type": "quantitative", "scale": {"domain": [-0.00487, 0.03633], "nice": false, "zero": false}, "axis": null}
          }
        },
        {
          "data": {"values": [{}]},
          "mark": {"type": "text", "text": "MACD =", "font": "Liberation Sans", "fontSize": 5.6, "color": "#222", "align": "left", "baseline": "middle"},
          "encoding": {
            "x": {"datum": -2.571, "type": "quantitative", "scale": {"domain": [-3.943, 224.057], "nice": false, "zero": false}, "axis": null},
            "y": {"datum": 0.00318, "type": "quantitative", "scale": {"domain": [-0.00487, 0.03633], "nice": false, "zero": false}, "axis": null}
          }
        },
        {
          "data": {"values": [{}]},
          "mark": {"type": "text", "text": "0,00", "font": "Liberation Sans", "fontSize": 5.6, "color": "#3030e0", "align": "left", "baseline": "middle"},
          "encoding": {
            "x": {"datum": 4.63, "type": "quantitative", "scale": {"domain": [-3.943, 224.057], "nice": false, "zero": false}, "axis": null},
            "y": {"datum": 0.00318, "type": "quantitative", "scale": {"domain": [-0.00487, 0.03633], "nice": false, "zero": false}, "axis": null}
          }
        },
        {
          "data": {"values": [{}]},
          "mark": {"type": "rect", "fill": "#e2e2e2", "stroke": "#999", "strokeWidth": 1},
          "encoding": {
            "x": {"datum": -3.771, "type": "quantitative", "scale": {"domain": [-3.943, 224.057], "nice": false, "zero": false}, "axis": null},
            "x2": {"datum": 190.46},
            "y": {"datum": -0.00297, "type": "quantitative", "scale": {"domain": [-0.00487, 0.03633], "nice": false, "zero": false}, "axis": null},
            "y2": {"datum": -0.00387}
          }
        },
        {
          "data": {"values": [{}]},
          "mark": {"type": "rect", "fill": "white", "stroke": "#888", "strokeWidth": 1},
          "encoding": {
            "x": {"datum": -2.229, "type": "quantitative", "scale": {"domain": [-3.943, 224.057], "nice": false, "zero": false}, "axis": null},
            "x2": {"datum": 12.17},
            "y": {"datum": -0.00307, "type": "quantitative", "scale": {"domain": [-0.00487, 0.03633], "nice": false, "zero": false}, "axis": null},
            "y2": {"datum": -0.00387}
          }
        },
        {
          "data": {"values": [{}]},
          "mark": {"type": "text", "text": "MACD 9,36,6", "font": "Liberation Sans", "fontSize": 6, "color": "#222", "align": "left", "baseline": "middle"},
          "encoding": {
            "x": {"datum": -1.2, "type": "quantitative", "scale": {"domain": [-3.943, 224.057], "nice": false, "zero": false}, "axis": null},
            "y": {"datum": -0.00347, "type": "quantitative", "scale": {"domain": [-0.00487, 0.03633], "nice": false, "zero": false}, "axis": null}
          }
        },
        {
          "data": {"values": [{}]},
          "mark": {"type": "text", "text": "Stoch 13,3,3 (80%-20%)", "font": "Liberation Sans", "fontSize": 6, "color": "#222", "align": "left", "baseline": "middle"},
          "encoding": {
            "x": {"datum": 13.2, "type": "quantitative", "scale": {"domain": [-3.943, 224.057], "nice": false, "zero": false}, "axis": null},
            "y": {"datum": -0.00347, "type": "quantitative", "scale": {"domain": [-0.00487, 0.03633], "nice": false, "zero": false}, "axis": null}
          }
        },
        {
          "data": {"values": [{}]},
          "mark": {"type": "rect", "fill": "#dc5858", "opacity": 0.9},
          "encoding": {
            "x": {"datum": 80.05, "type": "quantitative", "scale": {"domain": [-3.943, 224.057], "nice": false, "zero": false}, "axis": null},
            "x2": {"datum": 140.4},
            "y": {"datum": -0.00177, "type": "quantitative", "scale": {"domain": [-0.00487, 0.03633], "nice": false, "zero": false}, "axis": null},
            "y2": {"datum": -0.00487}
          }
        },
        {
          "data": {"values": [{}]},
          "mark": {"type": "text", "text": "www.instaforex.com", "font": "DejaVu Sans", "fontSize": 15, "color": "white", "align": "center", "baseline": "middle"},
          "encoding": {
            "x": {"datum": 110.23, "type": "quantitative", "scale": {"domain": [-3.943, 224.057], "nice": false, "zero": false}, "axis": null},
            "y": {"datum": -0.00332, "type": "quantitative", "scale": {"domain": [-0.00487, 0.03633], "nice": false, "zero": false}, "axis": null}
          }
        }
      ]
    }
  ],
  "resolve": {"scale": {"y": "independent"}}
}
